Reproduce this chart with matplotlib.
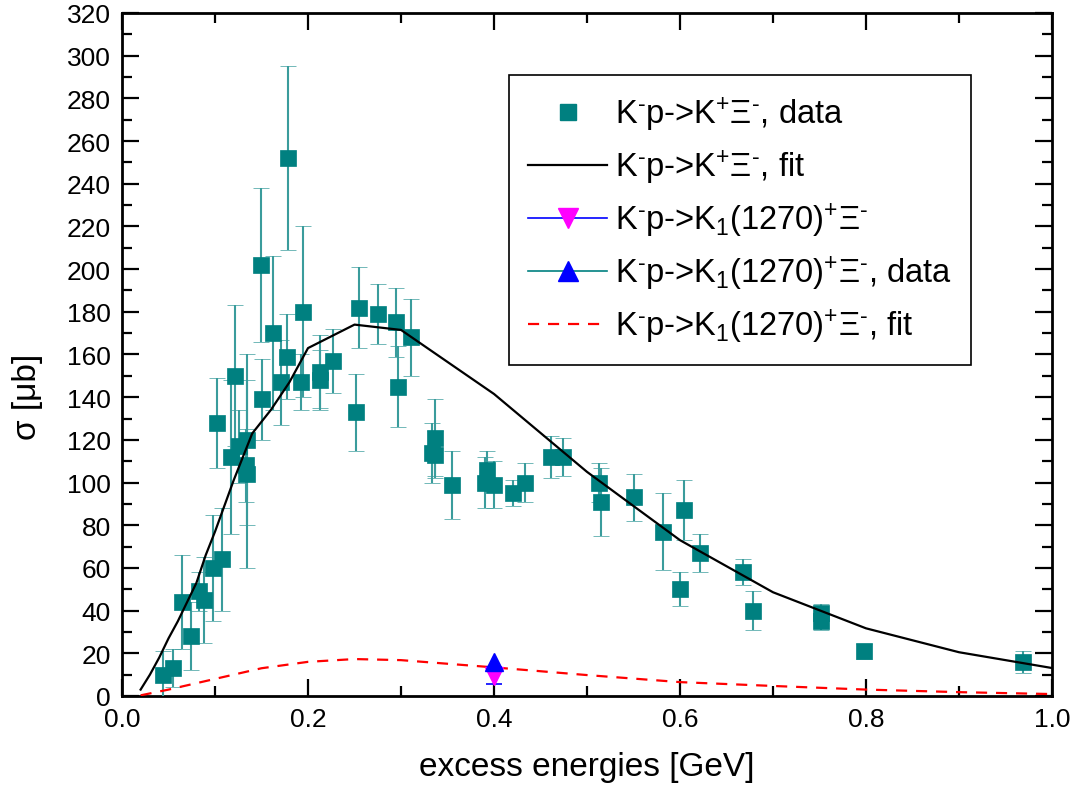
import matplotlib
matplotlib.use("Agg")
import matplotlib.pyplot as plt
from matplotlib.ticker import MultipleLocator
from matplotlib.lines import Line2D

plt.rcParams['font.family'] = ['Liberation Sans', 'DejaVu Sans']
plt.rcParams['mathtext.fontset'] = 'custom'
plt.rcParams['mathtext.rm'] = 'Liberation Sans'
plt.rcParams['mathtext.it'] = 'Liberation Sans:italic'
plt.rcParams['mathtext.bf'] = 'Liberation Sans:bold'

# K- p -> K+ Xi- data
E_data = [0.044, 0.055, 0.064, 0.074, 0.083, 0.088, 0.098, 0.102, 0.108, 0.117,
          0.121, 0.126, 0.133, 0.134, 0.134, 0.149, 0.150, 0.162, 0.171, 0.177,
          0.179, 0.192, 0.195, 0.213, 0.213, 0.227, 0.252, 0.255, 0.275, 0.295,
          0.297, 0.311, 0.333, 0.337, 0.337, 0.355, 0.390, 0.392, 0.400, 0.420,
          0.433, 0.461, 0.474, 0.513, 0.515, 0.551, 0.582, 0.600, 0.604, 0.621,
          0.668, 0.679, 0.752, 0.752, 0.798, 0.969]
sigma_data = [10, 13, 44, 28, 49, 45, 60, 128, 64, 112,
              150, 117, 108, 120, 104, 202, 139, 170, 147, 159,
              252, 147, 180, 152, 148, 157, 133, 182, 179, 175,
              145, 168, 114, 121, 113, 99, 100, 106, 99, 95,
              100, 112, 112, 100, 91, 93, 77, 50, 87, 67,
              58, 40, 39, 35, 21, 16]
sigma_err = [11, 9, 22, 16, 9, 20, 25, 21, 24, 36,
             33, 17, 17, 40, 44, 36, 19, 36, 20, 20,
             43, 13, 40, 17, 14, 15, 18, 19, 14, 16,
             19, 18, 14, 18, 11, 16, 12, 9, 11, 6,
             9, 10, 9, 9, 16, 11, 18, 8, 14, 9,
             6, 9, 4, 4, 3.5, 5]

# K- p -> K+ Xi- fit
E_fit = [0.02, 0.03, 0.04, 0.05, 0.06, 0.07, 0.08, 0.09, 0.10, 0.11, 0.12, 0.13,
         0.14, 0.16, 0.18, 0.20, 0.25, 0.30, 0.40, 0.50, 0.60, 0.70, 0.80, 0.90, 1.00]
sigma_fit = [3, 10, 18, 27, 35, 44, 53, 66, 77, 89, 101, 112,
             123, 134, 147, 163, 174, 171.5, 141.5, 105, 73, 48.6, 31.7, 20.5, 13.1]

# K- p -> K1(1270)+ Xi- fit
E_k1fit = [0.02, 0.05, 0.10, 0.15, 0.20, 0.25, 0.30, 0.40, 0.50, 0.60, 0.70, 0.80, 0.90, 1.00]
sigma_k1fit = [0.3, 3, 8, 13, 16, 17.3, 16.8, 13.4, 9.8, 6.5, 4.7, 3.0, 1.8, 0.9]

# K1(1270) points
E_k1 = [0.4]
sigma_k1 = [9.5]
sigma_k1_err = [4]
E_k1data = [0.4]
sigma_k1data = [16]

labels = ['K$^{\u2010}$p->K$^{+}$Ξ$^{\u2010}$, data',
          'K$^{\u2010}$p->K$^{+}$Ξ$^{\u2010}$, fit',
          'K$^{\u2010}$p->K$_{1}$(1270)$^{+}$Ξ$^{\u2010}$',
          'K$^{\u2010}$p->K$_{1}$(1270)$^{+}$Ξ$^{\u2010}$, data',
          'K$^{\u2010}$p->K$_{1}$(1270)$^{+}$Ξ$^{\u2010}$, fit']

fig = plt.figure(figsize=(10.76, 8.04), dpi=100)
ax = fig.add_axes([0.1134, 0.1331, 0.8643, 0.8495])

teal = '#008080'
ax.errorbar(E_data, sigma_data, yerr=sigma_err, fmt='s', color=teal, ecolor='#3a9c9c',
            elinewidth=1.5, capsize=5.5, capthick=1.5, markersize=11, mec=teal, mew=0.5,
            zorder=3)
ax.plot(E_fit, sigma_fit, '-', color='black', lw=1.6, zorder=4)
ax.errorbar(E_k1, sigma_k1, yerr=sigma_k1_err, fmt='v', color='blue', mfc='magenta', mec='magenta',
            markersize=13, elinewidth=1.2, capsize=6, capthick=1.2, ecolor='blue', zorder=5)
ax.plot(E_k1data, sigma_k1data, '^', mfc='blue', mec='blue', markersize=13, zorder=6)
ax.plot(E_k1fit, sigma_k1fit, '--', color='red', lw=1.6, dashes=(5, 4), zorder=4)

ax.set_xlim(0, 1.0)
ax.set_ylim(0, 320)
ax.xaxis.set_minor_locator(MultipleLocator(0.1))
ax.yaxis.set_major_locator(MultipleLocator(20))
ax.yaxis.set_minor_locator(MultipleLocator(10))
ax.set_xticks([0.0, 0.2, 0.4, 0.6, 0.8, 1.0])
ax.set_xticklabels(['0.0', '0.2', '0.4', '0.6', '0.8', '1.0'])
ax.tick_params(which='both', direction='in', top=True, right=True, labelsize=19, width=1.6, pad=8)
ax.tick_params(which='major', length=12)
ax.tick_params(which='minor', length=7)
for s in ax.spines.values():
    s.set_linewidth(2)

ax.set_xlabel('excess energies [GeV]', fontsize=24, labelpad=14)
ax.set_ylabel('σ [μb]', fontsize=24)
ax.yaxis.set_label_coords(-0.085, 0.44)

handles = [
    Line2D([], [], ls='none', marker='s', color=teal, markersize=11),
    Line2D([], [], ls='-', color='black', lw=1.6),
    Line2D([], [], ls='-', color='blue', lw=1.2, marker='v', mfc='magenta', mec='magenta', markersize=15),
    Line2D([], [], ls='-', color=teal, lw=1.2, marker='^', mfc='blue', mec='blue', markersize=15),
    Line2D([], [], ls='--', color='red', lw=1.6, dashes=(5, 4)),
]
leg = ax.legend(handles, labels, loc='upper left', bbox_to_anchor=(0.416, 0.909), fontsize=23.5,
                fancybox=False, edgecolor='black', framealpha=1, handlelength=2.4,
                borderpad=0.6, labelspacing=0.45, handletextpad=0.25, borderaxespad=0,
                numpoints=1)
leg.get_frame().set_linewidth(1.2)

fig.savefig('out.png', dpi=100)
